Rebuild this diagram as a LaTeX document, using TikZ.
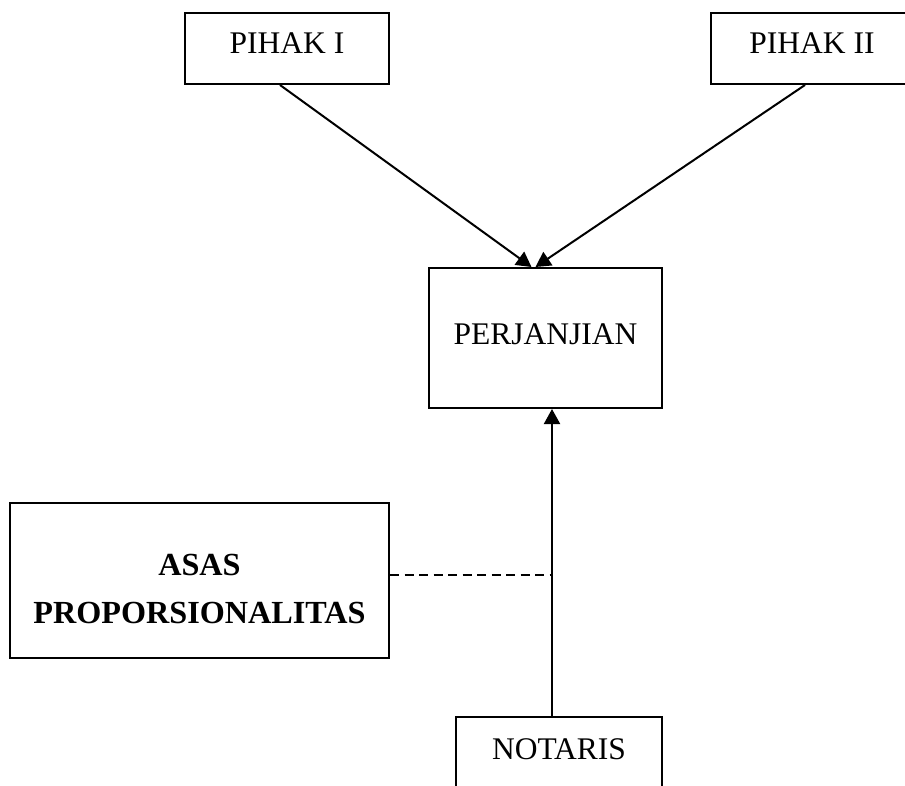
\documentclass[tikz,border=0pt]{standalone}
\usepackage{fontspec}
\setmainfont{Liberation Serif}
\usetikzlibrary{arrows.meta}
\begin{document}
\begin{tikzpicture}[x=1pt,y=-1pt,
  box/.style={draw,line width=2pt,inner sep=0pt,align=center,font=\fontsize{31.5}{47}\selectfont},
  arr/.style={line width=2pt,-{Triangle[length=15pt,width=16pt]}}]
\clip (0,0) rectangle (905,786);
\fill[white] (0,0) rectangle (905,786);
\node[box,minimum width=204pt,minimum height=71pt,text depth=10pt] (p1) at (287,48.5) {PIHAK I};
\node[box,minimum width=202pt,minimum height=71pt,text depth=10pt] (p2) at (812,48.5) {PIHAK II};
\node[box,minimum width=233pt,minimum height=140pt,text depth=7pt] (pj) at (545.5,338) {PERJANJIAN};
\node[box,minimum width=379pt,minimum height=155pt,font=\fontsize{32.2}{48}\selectfont\bfseries] (asas) at (199.5,580.5) {\raisebox{-9pt}[\height][\depth]{\begin{tabular}{@{}c@{}}ASAS\\PROPORSIONALITAS\end{tabular}}};
\node[box,draw=none,minimum width=204pt,minimum height=62pt] (not) at (559,749) {NOTARIS};
\draw[line width=2pt] ([yshift=-80pt]not.south west) -- (not.north west) -- (not.north east) -- ([yshift=-80pt]not.south east);
\draw[arr] ([xshift=-7pt]p1.south) -- ([xshift=-14pt]pj.north);
\draw[arr] ([xshift=-7pt]p2.south) -- ([xshift=-10pt]pj.north);
\coordinate (nt) at ([xshift=-7pt]not.north);
\coordinate (pb) at (nt |- pj.south);
\draw[arr] (nt) -- (pb);
\coordinate (mid) at (nt |- 0,575);
\draw[line width=1.5pt,dash pattern=on 9pt off 5.5pt] (asas.east |- mid) -- (mid);
\end{tikzpicture}
\end{document}
